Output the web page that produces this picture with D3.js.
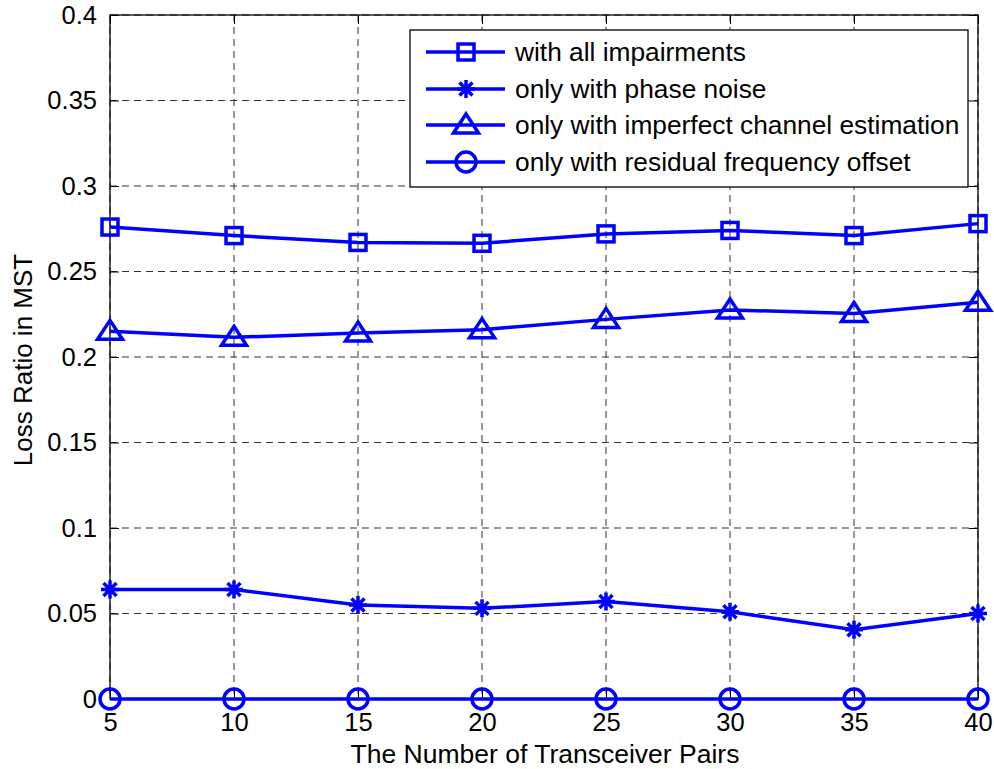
<!DOCTYPE html>
<html>
<head>
<meta charset="utf-8">
<script src="https://cdn.jsdelivr.net/npm/d3@7"></script>
<style>
  html, body { margin: 0; padding: 0; background: #fff; }
  svg { display: block; font-family: 'Liberation Sans', Arial, sans-serif; }
</style>
</head>
<body>
<svg id="chart" width="994" height="769"></svg>
<script>
// data
const pairs = [5, 10, 15, 20, 25, 30, 35, 40];
const allImpairments = [0.276, 0.271, 0.267, 0.2665, 0.272, 0.274, 0.271, 0.278];
const phaseNoise = [0.064, 0.064, 0.055, 0.053, 0.057, 0.051, 0.0405, 0.050];
const channelEst = [0.215, 0.2115, 0.214, 0.216, 0.222, 0.2275, 0.2255, 0.232];
const freqOffset = [0, 0, 0, 0, 0, 0, 0, 0];
const seriesNames = [
  'with all impairments',
  'only with phase noise',
  'only with imperfect channel estimation',
  'only with residual frequency offset'
];
const markers = ['square', 'star', 'triangle', 'circle'];
const xTicks = [5, 10, 15, 20, 25, 30, 35, 40];
const yTicks = [0, 0.05, 0.1, 0.15, 0.2, 0.25, 0.3, 0.35, 0.4];

const svg = d3.select('#chart');
const margin = { top: 15, right: 16, bottom: 70, left: 110 };
const width = +svg.attr('width') - margin.left - margin.right;
const height = +svg.attr('height') - margin.top - margin.bottom;
const g = svg.append('g').attr('transform', 'translate(' + margin.left + ',' + margin.top + ')');

const blue = '#0000ff';

const x = d3.scaleLinear().domain([5, 40]).range([0, width]);
const y = d3.scaleLinear().domain([0, 0.4]).range([height, 0]);

// grid
const grid = g.append('g').attr('class', 'grid');
grid.selectAll('.gx')
  .data(xTicks)
  .enter()
  .append('line')
  .attr('x1', d => x(d)).attr('x2', d => x(d))
  .attr('y1', 0).attr('y2', height)
  .attr('stroke', '#333').attr('stroke-width', 1)
  .attr('stroke-dasharray', '7,5');
grid.selectAll('.gy')
  .data(yTicks)
  .enter()
  .append('line')
  .attr('x1', 0).attr('x2', width)
  .attr('y1', d => y(d)).attr('y2', d => y(d))
  .attr('stroke', '#333').attr('stroke-width', 1)
  .attr('stroke-dasharray', '7,5');

// axes (ticks point inward, like MATLAB)
const tickLen = 9;
function styleAxis(sel) {
  sel.select('.domain').remove();
  sel.selectAll('.tick line').attr('stroke', '#000');
  sel.selectAll('.tick text').attr('fill', '#000').style('font-size', '25.5px')
    .style('font-family', "'Liberation Sans', Arial, sans-serif");
}

g.append('g')
  .attr('transform', 'translate(0,' + height + ')')
  .call(d3.axisBottom(x).tickValues(xTicks).tickSize(-tickLen).tickPadding(14).tickFormat(d3.format('d')))
  .call(styleAxis);

g.append('g')
  .call(d3.axisTop(x).tickValues(xTicks).tickSize(-tickLen).tickFormat(''))
  .call(styleAxis);

g.append('g')
  .call(d3.axisLeft(y).tickValues(yTicks).tickSize(-tickLen).tickPadding(13).tickFormat(d => d === 0 ? '0' : String(+d.toFixed(2))))
  .call(styleAxis);

g.append('g')
  .attr('transform', 'translate(' + width + ',0)')
  .call(d3.axisRight(y).tickValues(yTicks).tickSize(-tickLen).tickFormat(''))
  .call(styleAxis);

// box
g.append('rect')
  .attr('x', 0).attr('y', 0)
  .attr('width', width).attr('height', height)
  .attr('fill', 'none').attr('stroke', '#000').attr('stroke-width', 1.3);

// marker drawing
function drawMarker(sel, type) {
  if (type === 'square') {
    sel.append('rect').attr('x', -8).attr('y', -8).attr('width', 16).attr('height', 16)
      .attr('fill', 'none').attr('stroke', blue).attr('stroke-width', 3.5);
  } else if (type === 'circle') {
    sel.append('circle').attr('r', 10)
      .attr('fill', 'none').attr('stroke', blue).attr('stroke-width', 3.5);
  } else if (type === 'triangle') {
    sel.append('path').attr('d', 'M0,-11L12.5,8L-12.5,8Z')
      .attr('fill', 'none').attr('stroke', blue).attr('stroke-width', 3.5).attr('stroke-linejoin', 'miter');
  } else if (type === 'star') {
    sel.append('path').attr('d', 'M0,-9V9M-9,0H9M-6.5,-6.5L6.5,6.5M-6.5,6.5L6.5,-6.5')
      .attr('fill', 'none').attr('stroke', blue).attr('stroke-width', 3.5);
  }
}

const allSeries = [allImpairments, phaseNoise, channelEst, freqOffset];

const line = d3.line()
  .x(d => x(d[0]))
  .y(d => y(d[1]));

allSeries.forEach(function(vals, i) {
  const pts = pairs.map((p, j) => [p, vals[j]]);
  g.append('path')
    .datum(pts)
    .attr('d', line)
    .attr('fill', 'none')
    .attr('stroke', blue)
    .attr('stroke-width', 3.5);
  g.selectAll('.m' + i)
    .data(pts)
    .enter()
    .append('g')
    .attr('transform', d => 'translate(' + x(d[0]) + ',' + y(d[1]) + ')')
    .each(function() { drawMarker(d3.select(this), markers[i]); });
});

// axis labels
svg.append('text')
  .attr('x', margin.left + width / 2 + 1)
  .attr('y', 763)
  .attr('text-anchor', 'middle')
  .style('font-size', '26.5px')
  .text('The Number of Transceiver Pairs');

svg.append('text')
  .attr('transform', 'translate(32,' + (margin.top + height / 2 + 3) + ') rotate(-90)')
  .attr('text-anchor', 'middle')
  .style('font-size', '26px')
  .text('Loss Ratio in MST');

// legend
const legend = svg.append('g');
legend.append('rect')
  .attr('x', 410).attr('y', 30)
  .attr('width', 558).attr('height', 157)
  .attr('fill', '#fff').attr('stroke', '#000').attr('stroke-width', 1.3);

const rowY = [52, 89, 125, 162];
seriesNames.forEach(function(name, i) {
  const row = legend.append('g').attr('transform', 'translate(0,' + rowY[i] + ')');
  row.append('line')
    .attr('x1', 426).attr('x2', 505)
    .attr('y1', 0).attr('y2', 0)
    .attr('stroke', blue).attr('stroke-width', 3.5);
  const mk = row.append('g').attr('transform', 'translate(466,0)');
  drawMarker(mk, markers[i]);
  row.append('text')
    .attr('x', 515)
    .attr('y', 9)
    .style('font-size', '26.3px')
    .text(name);
});
</script>
</body>
</html>
